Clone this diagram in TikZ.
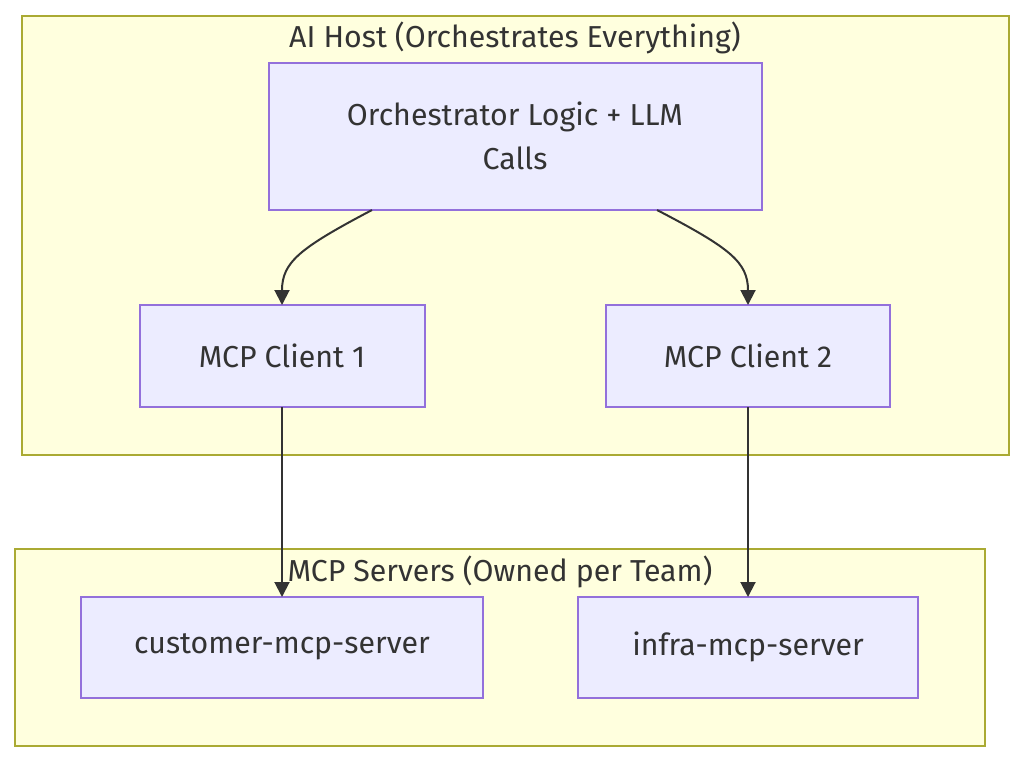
\documentclass[tikz,border=0pt]{standalone}
\usepackage{fontspec}
\setmainfont{Fira Sans}
\usetikzlibrary{arrows.meta}
\definecolor{clfill}{HTML}{FFFFDE}
\definecolor{clstroke}{HTML}{AAAA33}
\definecolor{ndfill}{HTML}{ECECFF}
\definecolor{ndstroke}{HTML}{9370DB}
\definecolor{txt}{HTML}{333333}
\begin{document}
\begin{tikzpicture}[x=1pt,y=-1pt,
  cluster/.style={draw=clstroke,fill=clfill,line width=1.6pt},
  nodebox/.style={draw=ndstroke,fill=ndfill,line width=1.6pt},
  lbl/.style={text=txt,font=\fontsize{30.3}{44}\selectfont,align=center,inner sep=0pt},
  conn/.style={draw=txt,line width=2pt,-{Triangle[length=15pt,width=15pt]}}]
\useasboundingbox (0,0) rectangle (1024,762);
\fill[white] (0,0) rectangle (1024,762);
% clusters
\draw[cluster] (22,16) rectangle (1009,455);
\node[lbl] (hostT) at (515,38) {AI Host (Orchestrates Everything)};
\draw[cluster] (15,549) rectangle (985,746);
% nodes
\draw[nodebox] (269,63) rectangle (762,210);
\node[lbl] (orch) at (515,136) {Orchestrator Logic + LLM\\Calls};
\coordinate (orchA) at (372,210);
\coordinate (orchB) at (657,210);
\draw[nodebox] (140,305) rectangle (425,407);
\node[lbl] (c1) at (282,356) {MCP Client 1};
\coordinate (c1t) at (282,305);
\coordinate (c1b) at (282,407);
\draw[nodebox] (606,305) rectangle (890,407);
\node[lbl] (c2) at (748,356) {MCP Client 2};
\coordinate (c2t) at (748,305);
\coordinate (c2b) at (748,407);
\draw[nodebox] (81,597) rectangle (483,698);
\node[lbl] (s1) at (282,647) {customer-mcp-server};
\coordinate (s1t) at (282,597);
\draw[nodebox] (578,597) rectangle (918,698);
\node[lbl] (s2) at (748,647) {infra-mcp-server};
\coordinate (s2t) at (748,597);
\node[lbl] (srvT) at (500,572) {MCP Servers (Owned per Team)};
% connectors
\draw[conn] (orchA) .. controls (300,248) and (282,262) .. (c1t);
\draw[conn] (orchB) .. controls (730,248) and (748,262) .. (c2t);
\draw[conn] (c1b) -- (s1t);
\draw[conn] (c2b) -- (s2t);
\end{tikzpicture}
\end{document}
